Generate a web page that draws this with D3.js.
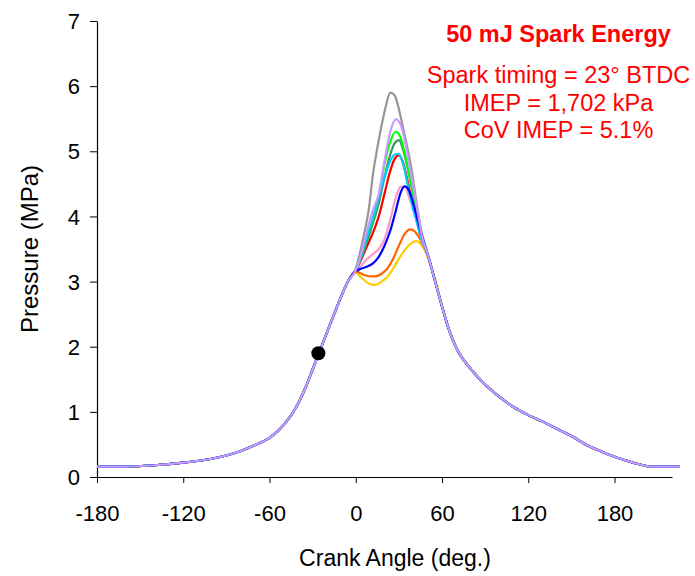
<!DOCTYPE html>
<html>
<head>
<meta charset="utf-8">
<script src="https://cdn.jsdelivr.net/npm/d3@7"></script>
<style>
  html, body { margin: 0; padding: 0; background: #fff; }
  svg { display: block; font-family: "Liberation Sans", Arial, sans-serif; }
</style>
</head>
<body>
<svg id="chart" width="695" height="576"></svg>
<script>
// ---- Data ----
const xTicks = [-180, -120, -60, 0, 60, 120, 180];
const yTicks = [0, 1, 2, 3, 4, 5, 6, 7];

// shared compression stroke (crank angle, MPa)
const compressionAngle = [-180, -160, -140, -120, -100, -90, -80, -70, -60, -50, -40, -35, -30, -26, -20, -15, -10, -5];
const compressionP     = [0.16, 0.16, 0.18, 0.22, 0.28, 0.33, 0.40, 0.49, 0.60, 0.80, 1.13, 1.37, 1.65, 1.88, 2.22, 2.50, 2.78, 3.02];

// shared expansion stroke
const expansionAngle = [50, 55, 60, 65, 70, 80, 90, 100, 110, 120, 130, 140, 150, 160, 170, 180, 190, 200, 205, 225];
const expansionP     = [3.42, 3.02, 2.62, 2.25, 1.98, 1.66, 1.42, 1.23, 1.07, 0.95, 0.85, 0.74, 0.63, 0.50, 0.40, 0.31, 0.24, 0.18, 0.16, 0.16];

// combustion region for each cycle
const cycleNames  = ["gray", "gold", "orange", "pink", "red", "darkgreen", "green", "cyan", "blue", "lavender"];
const cycleColors = ["#969696", "#FFCC00", "#FF6600", "#FF99CC", "#FF0000", "#339966", "#00FF00", "#00CCFF", "#0000FF", "#CC99FF"];

const grayAngle = [0, 3, 6, 9, 12, 15, 18, 21, 24, 27, 30, 33, 36, 39, 42, 45];
const grayP     = [3.20, 3.45, 3.75, 4.10, 4.65, 5.05, 5.40, 5.70, 5.90, 5.86, 5.65, 5.35, 5.05, 4.70, 4.25, 3.85];

const goldAngle = [0, 3, 6, 10, 14, 18, 22, 26, 30, 34, 38, 42, 45, 48, 52, 56];
const goldP     = [3.14, 3.08, 3.02, 2.96, 2.95, 3.00, 3.07, 3.20, 3.35, 3.48, 3.58, 3.62, 3.58, 3.48, 3.25, 2.98];

const orangeAngle = [0, 3, 6, 10, 14, 18, 22, 26, 30, 34, 38, 41, 44, 47];
const orangeP     = [3.16, 3.13, 3.10, 3.08, 3.08, 3.12, 3.20, 3.35, 3.55, 3.73, 3.80, 3.77, 3.68, 3.55];

const pinkAngle = [0, 4, 8, 12, 16, 20, 24, 28, 31, 34, 37, 40, 43, 46];
const pinkP     = [3.16, 3.25, 3.35, 3.42, 3.50, 3.65, 3.95, 4.30, 4.45, 4.46, 4.30, 4.10, 3.90, 3.62];

const redAngle = [0, 4, 8, 12, 16, 20, 24, 27, 30, 33, 36, 39, 42, 45];
const redP     = [3.17, 3.35, 3.55, 3.75, 4.00, 4.35, 4.70, 4.88, 4.94, 4.82, 4.55, 4.25, 3.98, 3.72];

const darkgreenAngle = [0, 4, 8, 12, 16, 20, 24, 27, 30, 33, 36, 39, 42, 45];
const darkgreenP     = [3.17, 3.38, 3.62, 3.90, 4.20, 4.60, 4.95, 5.12, 5.17, 5.02, 4.75, 4.45, 4.10, 3.78];

const greenAngle = [0, 4, 8, 12, 16, 20, 24, 28, 31, 34, 37, 40, 43, 46];
const greenP     = [3.17, 3.40, 3.70, 3.95, 4.30, 4.80, 5.15, 5.30, 5.22, 4.98, 4.65, 4.35, 4.00, 3.68];

const cyanAngle = [0, 4, 8, 12, 16, 20, 24, 27, 30, 33, 36, 39, 42, 45];
const cyanP     = [3.17, 3.40, 3.70, 3.98, 4.30, 4.60, 4.85, 4.95, 4.96, 4.80, 4.50, 4.20, 3.95, 3.70];

const blueAngle = [0, 4, 8, 12, 16, 20, 24, 28, 31, 34, 37, 40, 43, 46];
const blueP     = [3.16, 3.20, 3.23, 3.28, 3.38, 3.55, 3.78, 4.10, 4.35, 4.46, 4.40, 4.20, 3.95, 3.70];

const lavenderAngle = [0, 4, 8, 12, 16, 20, 24, 28, 31, 34, 37, 40, 43, 46];
const lavenderP     = [3.17, 3.45, 3.80, 4.10, 4.35, 4.85, 5.30, 5.49, 5.42, 5.18, 4.82, 4.45, 4.08, 3.70];

const cycleAngles = [grayAngle, goldAngle, orangeAngle, pinkAngle, redAngle, darkgreenAngle, greenAngle, cyanAngle, blueAngle, lavenderAngle];
const cyclePs     = [grayP, goldP, orangeP, pinkP, redP, darkgreenP, greenP, cyanP, blueP, lavenderP];

const sparkAngle = -26;
const sparkP = 1.90;

const titleText = "50 mJ Spark Energy";
const infoLines = ["Spark timing = 23\u00B0 BTDC", "IMEP = 1,702 kPa", "CoV IMEP = 5.1%"];

// ---- Chart ----
const svg = d3.select("#chart");
const x = d3.scaleLinear().domain([-180, 220]).range([97, 672]);
const y = d3.scaleLinear().domain([0, 7]).range([477, 21]);

const xAxis = d3.axisBottom(x).tickValues(xTicks).tickSize(6).tickSizeOuter(0).tickPadding(22).tickFormat(d => String(d));
const yAxis = d3.axisLeft(y).tickValues(yTicks).tickSize(7).tickSizeOuter(0).tickPadding(10).tickFormat(d => String(d));

const gx = svg.append("g").attr("transform", "translate(0,477)").call(xAxis);
const gy = svg.append("g").attr("transform", "translate(97,0)").call(yAxis);
[gx, gy].forEach(g => {
  g.select(".domain").attr("stroke", "#000").attr("stroke-width", 1.2);
  g.selectAll(".tick line").attr("stroke", "#000").attr("stroke-width", 1);
  g.selectAll(".tick text").attr("fill", "#000").attr("font-size", 22)
    .attr("font-family", "'Liberation Sans', Arial, sans-serif");
});
gy.selectAll(".tick text").attr("dy", "0.35em");

// series
const line = d3.line().x(d => x(d[0])).y(d => y(d[1])).curve(d3.curveMonotoneX);
cycleNames.forEach((name, i) => {
  const ang = cycleAngles[i], ps = cyclePs[i];
  const last = ang[ang.length - 1];
  const pts = [];
  compressionAngle.forEach((a, k) => pts.push([a, compressionP[k]]));
  ang.forEach((a, k) => pts.push([a, ps[k]]));
  expansionAngle.forEach((a, k) => { if (a >= last + 3) pts.push([a, expansionP[k]]); });
  svg.append("path")
    .datum(pts)
    .attr("fill", "none")
    .attr("stroke", cycleColors[i])
    .attr("stroke-width", 2.2)
    .attr("stroke-linejoin", "round")
    .attr("d", line);
});

// spark marker
svg.append("circle")
  .attr("cx", x(sparkAngle)).attr("cy", y(sparkP)).attr("r", 7)
  .attr("fill", "#000");

// axis titles
svg.append("text")
  .attr("x", 395).attr("y", 566)
  .attr("text-anchor", "middle").attr("font-size", 23).attr("fill", "#000")
  .text("Crank Angle (deg.)");
svg.append("text")
  .attr("transform", "translate(38,249) rotate(-90)")
  .attr("text-anchor", "middle").attr("font-size", 24).attr("fill", "#000")
  .text("Pressure (MPa)");

// annotation
svg.append("text")
  .attr("x", 558.5).attr("y", 42)
  .attr("text-anchor", "middle").attr("font-size", 23.5).attr("font-weight", "bold").attr("fill", "#FF0000")
  .text(titleText);
const infoY = [83, 111, 138];
infoLines.forEach((t, i) => {
  svg.append("text")
    .attr("x", 558.5).attr("y", infoY[i])
    .attr("text-anchor", "middle").attr("font-size", 23.5).attr("fill", "#FF0000")
    .text(t);
});
</script>
</body>
</html>
